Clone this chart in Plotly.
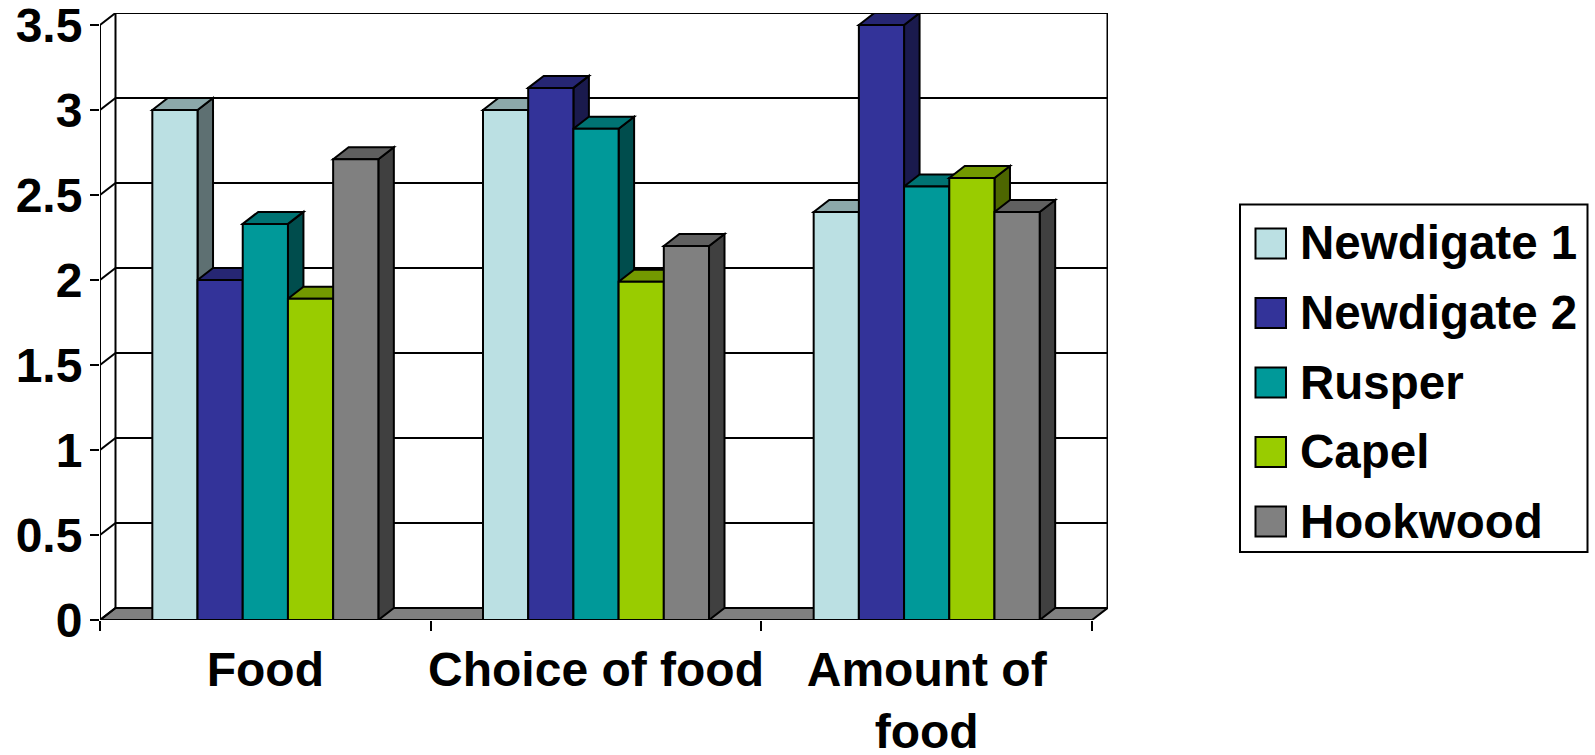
import plotly.graph_objects as go

# Survey scores by topic and site
categories = ["Food", "Choice of food", "Amount of<br>food"]
category_pos = [0.5, 1.5, 2.5]
boundaries = [0, 1, 2, 3]
y_ticks = [0, 0.5, 1, 1.5, 2, 2.5, 3, 3.5]
y_labels = ["0", "0.5", "1", "1.5", "2", "2.5", "3", "3.5"]

newdigate_1 = [3.0, 3.0, 2.4]
newdigate_2 = [2.0, 3.13, 3.5]
rusper = [2.33, 2.89, 2.55]
capel = [1.89, 1.99, 2.6]
hookwood = [2.71, 2.2, 2.4]

series_names = ["Newdigate 1", "Newdigate 2", "Rusper", "Capel", "Hookwood"]
series_values = [newdigate_1, newdigate_2, rusper, capel, hookwood]
front_colors = ["#BBE0E3", "#333399", "#009999", "#99CC00", "#808080"]
top_colors = ["#8CA8AA", "#262673", "#007373", "#739900", "#606060"]
side_colors = ["#5E7072", "#1A1A4D", "#004D4D", "#4D6600", "#404040"]

# Plot rectangle in pixels and the oblique offset used for the depth faces
WIDTH, HEIGHT = 1595, 755
LEFT, RIGHT, TOP, BOTTOM = 100, 1108, 13, 620
PX_PER_CAT = 330.67
PX_PER_UNIT = 170.0
DX = 15.5 / PX_PER_CAT
DY = 12.0 / PX_PER_UNIT
X_MAX = (RIGHT - LEFT) / PX_PER_CAT
Y_MAX = (BOTTOM - TOP) / PX_PER_UNIT
BAR_GAP = 0.3165
BAR_W = (1 - BAR_GAP) / len(series_names)
LINE = dict(color="black", width=2)
FONT = dict(family="Liberation Sans, Arial, sans-serif", size=48, color="black", weight=700)
KEY_FONT = dict(FONT, size=47.5)


def polygon(points, fill, layer="between"):
    path = "M" + " L".join(f"{x},{y}" for x, y in points) + " Z"
    return dict(type="path", xref="x", yref="y", path=path, fillcolor=fill, line=LINE, layer=layer)


def segment(x0, y0, x1, y1, layer="between"):
    return dict(type="line", xref="x", yref="y", x0=x0, y0=y0, x1=x1, y1=y1, line=LINE, layer=layer)


def to_paper_x(px):
    return (px - LEFT) / (RIGHT - LEFT)


def to_paper_y(py):
    return (BOTTOM - py) / (BOTTOM - TOP)


shapes = []

# Back wall, floor and the gridlines that wrap around the side wall
x_end = boundaries[-1]
shapes.append(polygon([(0, 0), (DX, DY), (x_end + DX, DY), (x_end, 0)], "#808080"))
shapes.append(segment(DX, DY, DX, y_ticks[-1] + DY))
shapes.append(segment(x_end + DX, DY, x_end + DX, y_ticks[-1] + DY))
for tick in y_ticks:
    shapes.append(segment(0, tick, DX, tick + DY))
    if tick > 0:
        shapes.append(segment(DX, tick + DY, x_end + DX, tick + DY))

# Top and side faces of every bar, drawn before the front faces
for s, values in enumerate(series_values):
    for center, value in zip(category_pos, values):
        x0 = center - (1 - BAR_GAP) / 2 + s * BAR_W
        x1 = x0 + BAR_W
        shapes.append(polygon(
            [(x1, 0), (x1 + DX, DY), (x1 + DX, value + DY), (x1, value)], side_colors[s]))
        shapes.append(polygon(
            [(x0, value), (x0 + DX, value + DY), (x1 + DX, value + DY), (x1, value)], top_colors[s]))

# Front axis lines
shapes.append(segment(0, 0, 0, y_ticks[-1], layer="above"))
shapes.append(segment(0, 0, x_end, 0, layer="above"))

fig = go.Figure()
for s, name in enumerate(series_names):
    fig.add_trace(go.Bar(
        name=name,
        x=category_pos,
        y=series_values[s],
        marker=dict(color=front_colors[s], line=LINE),
        cliponaxis=False,
    ))

# Boxed key with square swatches
annotations = []
LEGEND_ROW_Y = [243.5, 313, 382.5, 452, 521.5]
shapes.append(dict(
    type="rect", xref="paper", yref="paper",
    x0=to_paper_x(1240), x1=to_paper_x(1587.5), y0=to_paper_y(204.5), y1=to_paper_y(552),
    line=LINE, fillcolor="white", layer="above",
))
for s, name in enumerate(series_names):
    py = LEGEND_ROW_Y[s]
    shapes.append(dict(
        type="rect", xref="paper", yref="paper",
        x0=to_paper_x(1255.5), x1=to_paper_x(1286), y0=to_paper_y(py - 15), y1=to_paper_y(py + 15),
        line=LINE, fillcolor=front_colors[s], layer="above",
    ))
    annotations.append(dict(
        xref="paper", yref="paper", x=to_paper_x(1298), y=to_paper_y(py - 0.5),
        xanchor="left", yanchor="middle", text=name, showarrow=False, font=KEY_FONT,
    ))

fig.update_layout(
    width=WIDTH,
    height=HEIGHT,
    autosize=False,
    margin=dict(l=LEFT, r=WIDTH - RIGHT, t=TOP, b=HEIGHT - BOTTOM, pad=0),
    paper_bgcolor="white",
    plot_bgcolor="white",
    barmode="group",
    bargap=BAR_GAP,
    bargroupgap=0,
    showlegend=False,
    shapes=shapes,
    annotations=annotations,
    font=FONT,
    xaxis=dict(
        range=[0, X_MAX],
        tickmode="array",
        tickvals=category_pos,
        ticktext=categories,
        ticks="",
        showgrid=False,
        zeroline=False,
        showline=False,
        automargin=False,
        tickangle=0,
        tickfont=FONT,
        ticklabelstandoff=17,
        ticklabeloverflow="allow",
        minor=dict(
            tickmode="array",
            tickvals=boundaries,
            ticks="outside",
            ticklen=10,
            tickwidth=2,
            tickcolor="black",
            showgrid=False,
        ),
    ),
    yaxis=dict(
        range=[0, Y_MAX],
        tickmode="array",
        tickvals=y_ticks,
        ticktext=y_labels,
        ticks="outside",
        ticklen=9,
        tickwidth=2,
        tickcolor="black",
        showgrid=False,
        zeroline=False,
        showline=False,
        automargin=False,
        tickfont=FONT,
        ticklabeloverflow="allow",
        ticklabelstandoff=-2,
    ),
)

fig.write_html("out.html")
